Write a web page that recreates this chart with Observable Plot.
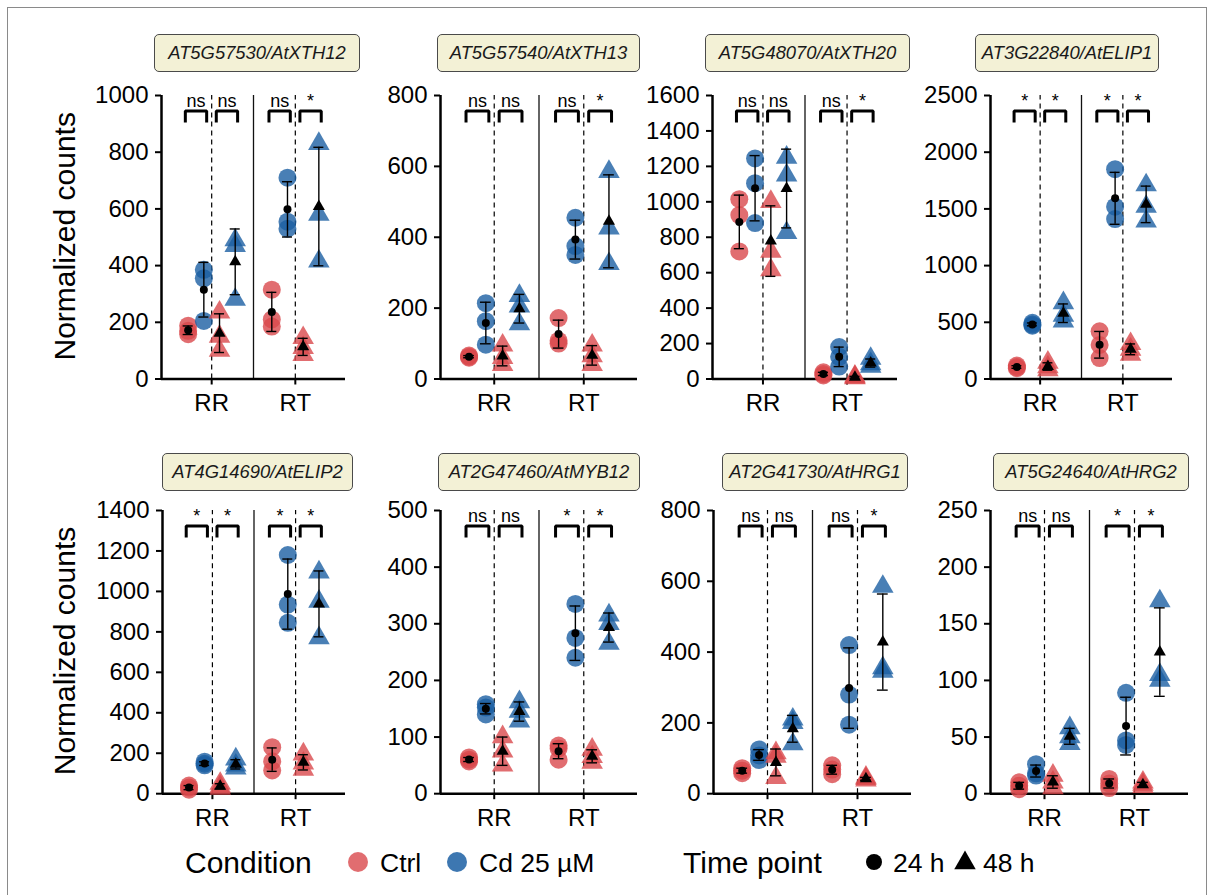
<!DOCTYPE html>
<html><head><meta charset="utf-8">
<script src="https://cdn.jsdelivr.net/npm/d3@7"></script>
<script src="https://cdn.jsdelivr.net/npm/@observablehq/plot@0.6"></script>
<style>
body{margin:0;background:#fff;}
#root{position:relative;width:1214px;height:895px;overflow:hidden;font-family:"Liberation Sans",Arial,Helvetica,sans-serif;}
.panel{position:absolute;}
.strip{position:absolute;box-sizing:border-box;height:38px;border:1.3px solid #4a4a4a;border-radius:5px;background:#f3f1d6;font-style:italic;font-size:18.4px;color:#1a1a1a;display:flex;align-items:center;justify-content:center;white-space:nowrap;}
</style></head><body><div id="root"></div>
<script>
// ---------- data ----------
const genes = ["AT5G57530/AtXTH12","AT5G57540/AtXTH13","AT5G48070/AtXTH20","AT3G22840/AtELIP1",
               "AT4G14690/AtELIP2","AT2G47460/AtMYB12","AT2G41730/AtHRG1","AT5G24640/AtHRG2"];
const sites = ["RR","RT"];
const conditions = ["Ctrl","Cd 25 µM"];
const timePoints = ["24 h","48 h"];
const yMax = [1000,800,1600,2500,1400,500,800,250];
const yStep = [200,200,200,500,200,100,200,50];
// group order: RR Ctrl 24h, RR Cd 24h, RR Ctrl 48h, RR Cd 48h, RT Ctrl 24h, RT Cd 24h, RT Ctrl 48h, RT Cd 48h
const valsXTH12 = [[158,170,188],[205,355,385],[100,150,235],[280,470,490],[185,210,315],[530,555,710],[85,110,145],[415,580,830]];
const valsXTH13 = [[60,63,66],[97,163,214],[40,60,95],[155,205,235],[100,108,172],[350,375,455],[40,65,95],[325,425,585]];
const valsXTH20 = [[720,925,1015],[880,1105,1245],[615,720,1000],[825,1150,1250],[20,28,38],[70,125,180],[5,10,15],[70,85,115]];
const valsELIP1 = [[95,105,118],[470,480,495],[80,105,145],[510,560,670],[185,300,420],[1410,1520,1850],[215,260,310],[1390,1520,1710]];
const valsELIP2 = [[20,30,40],[140,148,158],[25,35,50],[125,140,170],[115,160,230],[845,935,1180],[120,150,195],[770,950,1095]];
const valsMYB12 = [[57,60,64],[140,152,158],[50,75,100],[128,145,162],[60,80,85],[240,275,335],[55,65,78],[265,300,315]];
const valsHRG1 = [[58,65,72],[95,108,125],[45,105,115],[140,200,210],[55,68,80],[195,280,420],[38,42,46],[345,355,585]];
const valsHRG2 = [[4,7,10],[16,18,26],[5,10,16],[44,50,58],[5,9,13],[43,47,89],[6,8,10],[100,105,170]];
const geneValues = [valsXTH12,valsXTH13,valsXTH20,valsELIP1,valsELIP2,valsMYB12,valsHRG1,valsHRG2];
// significance: RR 24h, RR 48h, RT 24h, RT 48h
const signif = [["ns","ns","ns","*"],["ns","ns","ns","*"],["ns","ns","ns","*"],["*","*","*","*"],
                ["*","*","*","*"],["ns","ns","*","*"],["ns","ns","ns","*"],["ns","ns","*","*"]];

// ---------- layout ----------
const panelBox = [[161,345,94.5,378],[440,637,94.5,378],[712,897,94.5,378],[990,1172,94.5,378],
                  [162,345,509.5,792.7],[440,637,509.5,792.7],[713,911,509.5,792.7],[990,1188,509.5,792.7]];
const stripBox = [[154,360,34],[437,640,34],[705,910,34],[975,1159,34],[162,353,453],[438,640,453],[722,908,453],[993,1189,453]];
const groupOffsets = [-0.28125,-0.09375,0.09375,0.28125];
const bracketSpan = [[-0.315,-0.06],[0.055,0.31]];
const red = "#d9484c", blue = "#1b5fa3";
const FONT = "'Liberation Sans', Arial, Helvetica, sans-serif";

const root = document.getElementById("root");

function buildPanel(i){
  const vals = geneValues[i];
  const pts = [], means = [];
  vals.forEach((reps,g)=>{
    const s = Math.floor(g/4), k = g%4;
    const cond = conditions[k%2], time = timePoints[Math.floor(k/2)];
    const x = s+1+groupOffsets[k];
    reps.forEach(v=>pts.push({x,v,cond,time}));
    const m = d3.mean(reps), sd = d3.deviation(reps);
    means.push({x,m,lo:m-sd,hi:m+sd,time});
  });
  const max = yMax[i];
  const br = [], labs = [];
  signif[i].forEach((lab,j)=>{
    const s = Math.floor(j/2), t = j%2;
    const [a,b] = bracketSpan[t];
    const x1 = s+1+a, x2 = s+1+b, yb = max*0.945, yt = max*0.905;
    br.push({id:j,x:x1,y:yt},{id:j,x:x1,y:yb},{id:j,x:x2,y:yb},{id:j,x:x2,y:yt});
    labs.push({x:(x1+x2)/2,y:yb,lab});
  });
  const [L,R,T,B] = panelBox[i];
  const ml=80, mr=15, mt=20, mb=50;
  const W = R-L+ml+mr, H = B-T+mt+mb;
  const svg = Plot.plot({
    width:W, height:H, marginLeft:ml, marginRight:mr, marginTop:mt, marginBottom:mb,
    x:{type:"linear", domain:[0.4,2.6]},
    y:{domain:[0,max]},
    color:{domain:conditions, range:[red,blue]},
    style:{fontFamily:FONT, fontSize:"24px", color:"black", background:"transparent", overflow:"visible"},
    marks:[
      Plot.ruleX([1,2],{y1:0,y2:max,stroke:"#000",strokeWidth:1.2,strokeDasharray:"5,4"}),
      Plot.ruleX([1.5],{y1:0,y2:max,stroke:"#111",strokeWidth:1.3}),
      Plot.axisY({ticks:d3.range(0,max+1e-9,yStep[i]),tickFormat:d=>String(d),tickSize:6,tickPadding:7,fontSize:24,label:null,strokeWidth:2,fill:"black"}),
      Plot.axisX({ticks:[1,2],tickFormat:d=>sites[d-1],tickSize:6,tickPadding:9,fontSize:24,label:null,strokeWidth:2,fill:"black"}),
      Plot.ruleX([0.4],{y1:0,y2:max,stroke:"#000",strokeWidth:2.5}),
      Plot.ruleY([0],{x1:0.4,x2:2.6,stroke:"#000",strokeWidth:2.5}),
      Plot.dot(pts.filter(d=>d.time===timePoints[0]),{x:"x",y:"v",fill:"cond",symbol:"circle",r:9,fillOpacity:0.8}),
      Plot.dot(pts.filter(d=>d.time===timePoints[1]),{x:"x",y:"v",fill:"cond",symbol:"triangle",r:8,fillOpacity:0.8}),
      Plot.ruleX(means,{x:"x",y1:"lo",y2:"hi",stroke:"#000",strokeWidth:1.4}),
      Plot.ruleY(means,{y:"lo",x1:d=>d.x-0.06,x2:d=>d.x+0.06,stroke:"#000",strokeWidth:1.4}),
      Plot.ruleY(means,{y:"hi",x1:d=>d.x-0.06,x2:d=>d.x+0.06,stroke:"#000",strokeWidth:1.4}),
      Plot.dot(means.filter(d=>d.time===timePoints[0]),{x:"x",y:"m",fill:"#000",symbol:"circle",r:4}),
      Plot.dot(means.filter(d=>d.time===timePoints[1]),{x:"x",y:"m",fill:"#000",symbol:"triangle",r:4.5}),
      Plot.line(br,{x:"x",y:"y",z:"id",stroke:"#000",strokeWidth:3,strokeLinejoin:"miter",strokeLinecap:"butt"}),
      Plot.text(labs,{x:"x",y:"y",text:"lab",lineAnchor:"bottom",dy:-4,fontSize:18,fill:"#000"})
    ]
  });
  const div = document.createElement("div");
  div.className = "panel";
  div.style.left = (L-ml)+"px";
  div.style.top = (T-mt)+"px";
  div.appendChild(svg);
  root.appendChild(div);
  const sb = stripBox[i];
  const st = document.createElement("div");
  st.className = "strip";
  st.style.left = sb[0]+"px"; st.style.width = (sb[1]-sb[0])+"px"; st.style.top = sb[2]+"px";
  st.textContent = genes[i];
  root.appendChild(st);
}

// overlay: frame, axis titles, legend
const ov = d3.select(root).append("svg").attr("width",1214).attr("height",895)
  .style("position","absolute").style("left","0px").style("top","0px").style("font-family",FONT);
ov.append("rect").attr("x",7.5).attr("y",7.5).attr("width",1199).attr("height",1000)
  .attr("fill","none").attr("stroke","#8a8a8a").attr("stroke-width",1);
[[236.3],[651]].forEach(([cy])=>{
  ov.append("text").attr("transform",`translate(75,${cy}) rotate(-90)`).attr("text-anchor","middle")
    .attr("font-size",30).attr("fill","#000").text("Normalized counts");
});

for (let i=0;i<8;i++) buildPanel(i);

// legend
const lg = ov.append("g");
const ly = 862;
lg.append("text").attr("x",185).attr("y",ly+10.7).attr("font-size",30).text("Condition");
lg.append("circle").attr("cx",358).attr("cy",ly).attr("r",10).attr("fill",red).attr("fill-opacity",0.8);
lg.append("text").attr("x",380).attr("y",ly+9.5).attr("font-size",26.5).text(conditions[0]);
lg.append("circle").attr("cx",457).attr("cy",ly).attr("r",10).attr("fill",blue).attr("fill-opacity",0.85);
lg.append("text").attr("x",479).attr("y",ly+9.5).attr("font-size",26.5).text(conditions[1]);
lg.append("text").attr("x",683).attr("y",ly+10.7).attr("font-size",30).text("Time point");
lg.append("circle").attr("cx",874).attr("cy",ly).attr("r",8).attr("fill","#000");
lg.append("text").attr("x",893).attr("y",ly+9.5).attr("font-size",26.5).text(timePoints[0]);
lg.append("path").attr("d",d3.symbol(d3.symbolTriangle,200)()).attr("transform",`translate(965,${ly+1})`).attr("fill","#000");
lg.append("text").attr("x",983).attr("y",ly+9.5).attr("font-size",26.5).text(timePoints[1]);
</script></body></html>
